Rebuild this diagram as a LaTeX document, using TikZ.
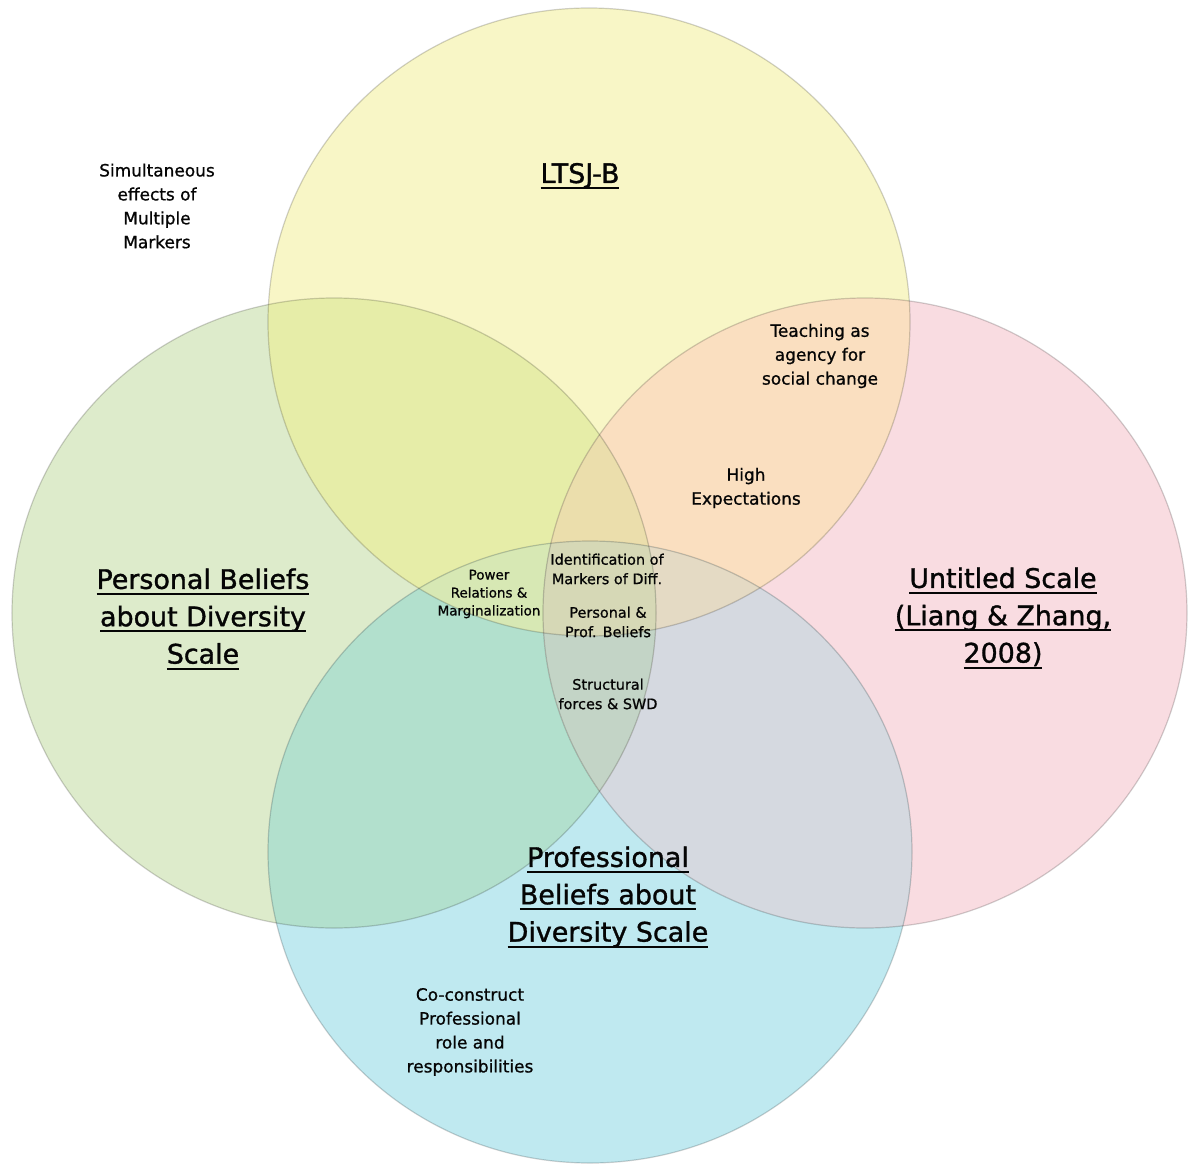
\documentclass[tikz,border=0pt]{standalone}
\usepackage{fontspec}
\setmainfont{DejaVu Sans}
\newfontfamily\medfont{DejaVu Sans}[FakeBold=0.9]
\newfontfamily\bigfont{DejaVu Sans}[FakeBold=1.2]
\newsavebox\ulbox
\newcommand\myul[1]{\sbox\ulbox{#1}\rlap{\usebox\ulbox}\rule[-6pt]{\wd\ulbox}{1.9pt}}
\definecolor{rY}{RGB}{248,246,198}
\definecolor{rG}{RGB}{221,235,203}
\definecolor{rP}{RGB}{249,220,225}
\definecolor{rB}{RGB}{191,233,240}
\definecolor{rYG}{RGB}{230,237,168}
\definecolor{rYP}{RGB}{250,223,192}
\definecolor{rYB}{RGB}{220,235,190}
\definecolor{rGB}{RGB}{178,224,205}
\definecolor{rPB}{RGB}{213,217,224}
\definecolor{rGP}{RGB}{235,220,200}
\definecolor{rYGB}{RGB}{215,232,180}
\definecolor{rYPB}{RGB}{228,218,196}
\definecolor{rYGP}{RGB}{235,222,172}
\definecolor{rGPB}{RGB}{195,212,198}
\definecolor{rYGPB}{RGB}{214,216,182}
\definecolor{txt}{RGB}{5,5,5}
\newcommand\shY{(589,322) ellipse [x radius=321bp, y radius=314bp]}
\newcommand\shG{(334,613) ellipse [x radius=322bp, y radius=315bp]}
\newcommand\shP{(865,613) ellipse [x radius=322bp, y radius=315bp]}
\newcommand\shB{(590,852) ellipse [x radius=322bp, y radius=311bp]}
\begin{document}
\begin{tikzpicture}[x=1bp,y=-1bp,
  rim/.style={draw=black, draw opacity=0.18, line width=1.2bp},
  small/.style={font=\medfont\fontsize{17}{24}\selectfont, align=center, inner sep=0pt, text=txt},
  tiny/.style={font=\medfont\fontsize{14.5}{19.5}\selectfont, align=center, inner sep=0pt, text=txt},
  tinier/.style={font=\medfont\fontsize{13.5}{18}\selectfont, align=center, inner sep=0pt, text=txt},
  big/.style={font=\bigfont\fontsize{27}{37.5}\selectfont, align=center, inner sep=0pt, text=txt}]
\useasboundingbox (0,0) rectangle (1193,1167);
\fill[white] (0,0) rectangle (1193,1167);
% single regions
\fill[rG] \shG;
\fill[rP] \shP;
\fill[rY] \shY;
\fill[rB] \shB;
% pairs
\begin{scope}\clip \shY; \fill[rYG] \shG; \end{scope}
\begin{scope}\clip \shY; \fill[rYP] \shP; \end{scope}
\begin{scope}\clip \shY; \fill[rYB] \shB; \end{scope}
\begin{scope}\clip \shG; \fill[rGB] \shB; \end{scope}
\begin{scope}\clip \shP; \fill[rPB] \shB; \end{scope}
\begin{scope}\clip \shG; \fill[rGP] \shP; \end{scope}
% triples
\begin{scope}\clip \shY; \clip \shG; \fill[rYGB] \shB; \end{scope}
\begin{scope}\clip \shY; \clip \shP; \fill[rYPB] \shB; \end{scope}
\begin{scope}\clip \shY; \clip \shG; \fill[rYGP] \shP; \end{scope}
\begin{scope}\clip \shG; \clip \shP; \fill[rGPB] \shB; \end{scope}
% quadruple
\begin{scope}\clip \shY; \clip \shG; \clip \shP; \fill[rYGPB] \shB; \end{scope}
% outlines
\draw[rim] \shG;
\draw[rim] \shP;
\draw[rim] \shY;
\draw[rim] \shB;
% labels
\node[small] (sim) at (157,206) {Simultaneous\\effects of\\Multiple\\Markers};
\node[big] (ltsj) at (580,176) {\myul{LTSJ-B}};
\node[small] (teach) at (820,356) {Teaching as\\agency for\\social change};
\node[small] (high) at (746,488) {High\\Expectations};
\node[tiny] (ident) at (607,569) {Identification of\\Markers of Diff.};
\node[tinier] (power) at (489,594) {Power\\Relations \&\\Marginalization};
\node[tiny] (pers) at (608,622) {Personal \&\\Prof. Beliefs};
\node[tiny] (struct) at (608,694) {Structural\\forces \& SWD};
\node[big] (pbd) at (203,619) {\myul{Personal Beliefs}\\\myul{about Diversity}\\\myul{Scale}};
\node[big] (unt) at (1003,618) {\myul{Untitled Scale}\\\myul{(Liang \& Zhang,}\\\myul{2008)}};
\node[big] (prof) at (608,897) {\myul{Professional}\\\myul{Beliefs about}\\\myul{Diversity Scale}};
\node[small] (coc) at (470,1032) {Co-construct\\Professional\\role and\\responsibilities};
\end{tikzpicture}
\end{document}
